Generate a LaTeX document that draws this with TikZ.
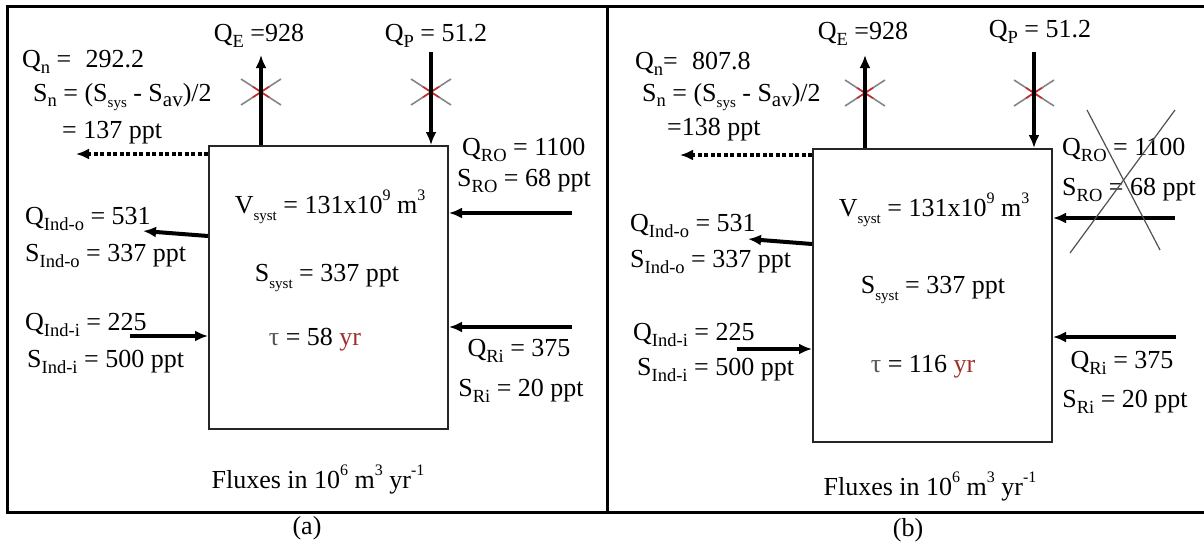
\documentclass[tikz,border=0pt]{standalone}
\usepackage{fontspec}
\setmainfont{Liberation Serif}
\usetikzlibrary{arrows.meta}
\definecolor{yrred}{HTML}{A0302A}
\definecolor{taugray}{HTML}{555555}
\definecolor{crossgray}{HTML}{858585}
\definecolor{crossred}{HTML}{D02828}
\definecolor{bigx}{HTML}{505050}
\newcommand\mysub[1]{\raisebox{-0.22em}{\fontsize{18.5}{18}\selectfont #1}}
\newcommand\mysubs[1]{\raisebox{-0.25em}{\fontsize{15}{15}\selectfont #1}}
\newcommand\mysubb[1]{\raisebox{-0.2em}{\fontsize{21}{21}\selectfont #1}}
\newcommand\mysup[1]{\raisebox{0.5em}{\fontsize{16}{16}\selectfont #1}}
\begin{document}
\begin{tikzpicture}[x=1pt,y=-1pt,
  lbl/.style={inner sep=0pt,font=\fontsize{26}{29}\selectfont},
  sysbox/.style={draw=black!85,line width=2pt,inner sep=0pt,minimum width=239pt},
  flow/.style={line width=4pt,-{Latex[length=13pt,width=11pt]}},
  dotflow/.style={line width=4pt,dash pattern=on 4pt off 2.5pt,-{Latex[length=13pt,width=11pt]}},
  xline/.style={crossgray,line width=1.6pt},
  crs/.pic={
    \draw[xline] (-20,-13) -- (20,13);
    \draw[xline] (-20,13) -- (20,-13);
    \draw[crossred,line width=1.6pt] (-8,-5.2) -- (8,5.2);
    \draw[crossred,line width=1.6pt] (-8,5.2) -- (8,-5.2);
  }]
\useasboundingbox (0,0) rectangle (1204,546);
% frame
\draw[line width=3pt] (1204,6) -- (7,6) -- (7,512) -- (1204,512);
\draw[line width=3pt] (607,6) -- (607,512);

% ================= panel (a) =================
\node[sysbox,minimum height=283pt] (boxA) at (328.5,287.5) {};
\node[lbl,anchor=west] (qnA) at (22,62) {Q\mysub{n} = \hspace{0.3em}292.2};
\node[lbl,anchor=west] (snA) at (33,97) {S\mysub{n} = (S\mysubs{sys} - S\mysubb{av})/2};
\node[lbl,anchor=west] (snvA) at (62,133) {= 137 ppt};
\node[lbl] (qeA) at (259,36) {Q\mysub{E} =928};
\node[lbl] (qpA) at (436,36) {Q\mysub{P} = 51.2};
\node[lbl,anchor=west] (qroA) at (462,150) {Q\mysub{RO} = 1100};
\node[lbl,anchor=west] (sroA) at (457,181) {S\mysub{RO} = 68 ppt};
\node[lbl] (vA) at (330,207) {V\mysubs{syst} = 131x10\mysup{9} m\mysup{3}};
\node[lbl] (ssA) at (327,278) {S\mysubs{syst} = 337 ppt};
\node[lbl] (tauA) at (315,340) {\textcolor{taugray}{τ} = 58 \textcolor{yrred}{yr}};
\node[lbl,anchor=west] (qioA) at (25,219) {Q\mysub{Ind-o} = 531};
\node[lbl,anchor=west] (sioA) at (25,256) {S\mysub{Ind-o} = 337 ppt};
\node[lbl,anchor=west] (qiiA) at (25,325) {Q\mysub{Ind-i} = 225};
\node[lbl,anchor=west] (siiA) at (27,362) {S\mysub{Ind-i} = 500 ppt};
\node[lbl] (qriA) at (519,351) {Q\mysub{Ri} = 375};
\node[lbl] (sriA) at (521,391) {S\mysub{Ri} = 20 ppt};
\node[lbl] (fluxA) at (318,480) {Fluxes in 10\mysup{6} m\mysup{3} yr\mysup{-1}};
\node[lbl] (labA) at (307,528) {(a)};

\coordinate (eA) at (261,55);
\coordinate (pA) at (431,52);
\coordinate (nA) at (76,154);
\coordinate (ioAy) at (0,236);
\coordinate (ioA) at (143,231);
\coordinate (iiA) at (130,336);
\coordinate (roA) at (572,213);
\coordinate (riA) at (572,327);
\pic at (261,92) {crs};
\pic at (431,92) {crs};
\draw[flow] (boxA.north -| eA) -- (eA);
\draw[flow] (pA) -- (boxA.north -| pA);
\draw[dotflow] (boxA.west |- nA) -- (nA);
\draw[flow] (boxA.west |- ioAy) -- (ioA);
\draw[flow] (iiA) -- (boxA.west |- iiA);
\draw[flow] (roA) -- (boxA.east |- roA);
\draw[flow] (riA) -- (boxA.east |- riA);

% ================= panel (b) =================
\node[sysbox,minimum height=293pt] (boxB) at (932.5,295.5) {};
\node[lbl,anchor=west] (qnB) at (635,64) {Q\mysub{n}= \hspace{0.3em}807.8};
\node[lbl,anchor=west] (snB) at (642,97) {S\mysub{n} = (S\mysubs{sys} - S\mysubb{av})/2};
\node[lbl,anchor=west] (snvB) at (667,130) {=138 ppt};
\node[lbl] (qeB) at (863,34) {Q\mysub{E} =928};
\node[lbl] (qpB) at (1040,32) {Q\mysub{P} = 51.2};
\node[lbl,anchor=west] (qroB) at (1062,150) {Q\mysub{RO} = 1100};
\node[lbl,anchor=west] (sroB) at (1062,190) {S\mysub{RO} = 68 ppt};
\node[lbl] (vB) at (934,210) {V\mysubs{syst} = 131x10\mysup{9} m\mysup{3}};
\node[lbl] (ssB) at (933,290) {S\mysubs{syst} = 337 ppt};
\node[lbl] (tauB) at (923,367) {\textcolor{taugray}{τ} = 116 \textcolor{yrred}{yr}};
\node[lbl,anchor=west] (qioB) at (630,226) {Q\mysub{Ind-o} = 531};
\node[lbl,anchor=west] (sioB) at (630,262) {S\mysub{Ind-o} = 337 ppt};
\node[lbl,anchor=west] (qiiB) at (633,335) {Q\mysub{Ind-i} = 225};
\node[lbl,anchor=west] (siiB) at (637,370) {S\mysub{Ind-i} = 500 ppt};
\node[lbl] (qriB) at (1122,363) {Q\mysub{Ri} = 375};
\node[lbl] (sriB) at (1125,402) {S\mysub{Ri} = 20 ppt};
\node[lbl] (fluxB) at (930,487) {Fluxes in 10\mysup{6} m\mysup{3} yr\mysup{-1}};
\node[lbl] (labB) at (908,530) {(b)};

\coordinate (eB) at (865,55);
\coordinate (pB) at (1034,52);
\coordinate (nB) at (680,155);
\coordinate (ioBy) at (0,244);
\coordinate (ioB) at (748,239);
\coordinate (iiB) at (737,349);
\coordinate (roB) at (1175,218);
\coordinate (riB) at (1176,337);
\pic at (865,93) {crs};
\pic at (1034,93) {crs};
\draw[flow] (boxB.north -| eB) -- (eB);
\draw[flow] (pB) -- (boxB.north -| pB);
\draw[dotflow] (boxB.west |- nB) -- (nB);
\draw[flow] (boxB.west |- ioBy) -- (ioB);
\draw[flow] (iiB) -- (boxB.west |- iiB);
\draw[flow] (roB) -- (boxB.east |- roB);
\draw[flow] (riB) -- (boxB.east |- riB);
% big cross over Q_RO
\draw[bigx,line width=1.2pt] (1087,110) -- (1160,250);
\draw[bigx,line width=1.2pt] (1175,110) -- (1070,253);
\end{tikzpicture}
\end{document}
